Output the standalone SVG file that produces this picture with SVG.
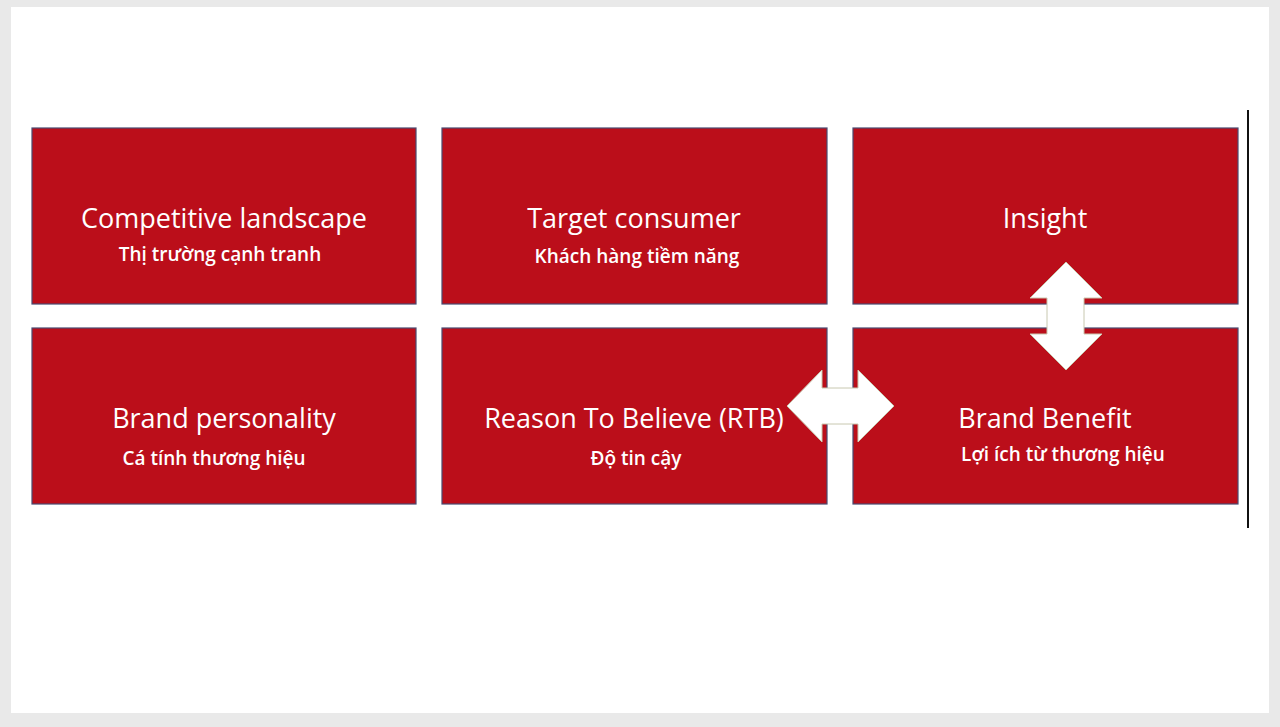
<svg xmlns="http://www.w3.org/2000/svg" width="1280" height="727" viewBox="0 0 1280 727">
<style>
.box{fill:#bb0e1a;stroke:#4a4a70;stroke-width:1.2}
.t{font-family:"Open Sans","Liberation Sans",sans-serif;fill:#fff;text-anchor:middle;font-size:27px}
.s{font-family:"Open Sans","Liberation Sans",sans-serif;fill:#fff;text-anchor:middle;font-size:19px;font-weight:600}
.arr{fill:#fff;stroke:#c8c8b0;stroke-width:1}
</style>
<rect width="1280" height="727" fill="#e9e9e9"/>
<rect x="11" y="7" width="1258" height="706" fill="#fff"/>
<line x1="1248" y1="110" x2="1248" y2="528" stroke="#111" stroke-width="2"/>
<g id="n1"><rect class="box" x="32" y="128" width="384" height="176"/><text class="t" x="224" y="228">Competitive landscape</text><text class="s" x="220" y="261">Thị trường cạnh tranh</text></g>
<g id="n2"><rect class="box" x="442" y="128" width="385" height="176"/><text class="t" x="634" y="228">Target consumer</text><text class="s" x="637" y="263">Khách hàng tiềm năng</text></g>
<g id="n3"><rect class="box" x="853" y="128" width="385" height="176"/><text class="t" x="1045" y="228">Insight</text></g>
<g id="n4"><rect class="box" x="32" y="328" width="384" height="176"/><text class="t" x="224" y="428">Brand personality</text><text class="s" x="214" y="465">Cá tính thương hiệu</text></g>
<g id="n5"><rect class="box" x="442" y="328" width="385" height="176"/><text class="t" x="634" y="428">Reason To Believe (RTB)</text><text class="s" x="636" y="465">Độ tin cậy</text></g>
<g id="n6"><rect class="box" x="853" y="328" width="385" height="176"/><text class="t" x="1045" y="428">Brand Benefit</text><text class="s" x="1063" y="461">Lợi ích từ thương hiệu</text></g>
<g id="connectors">
<polygon class="arr" points="1066,262 1102,298 1084,298 1084,334 1102,334 1066,370 1030,334 1047,334 1047,298 1030,298"/>
<polygon class="arr" points="787,406 822,370 822,388 858,388 858,370 894,406 858,442 858,424 822,424 822,442"/>
</g>
</svg>
